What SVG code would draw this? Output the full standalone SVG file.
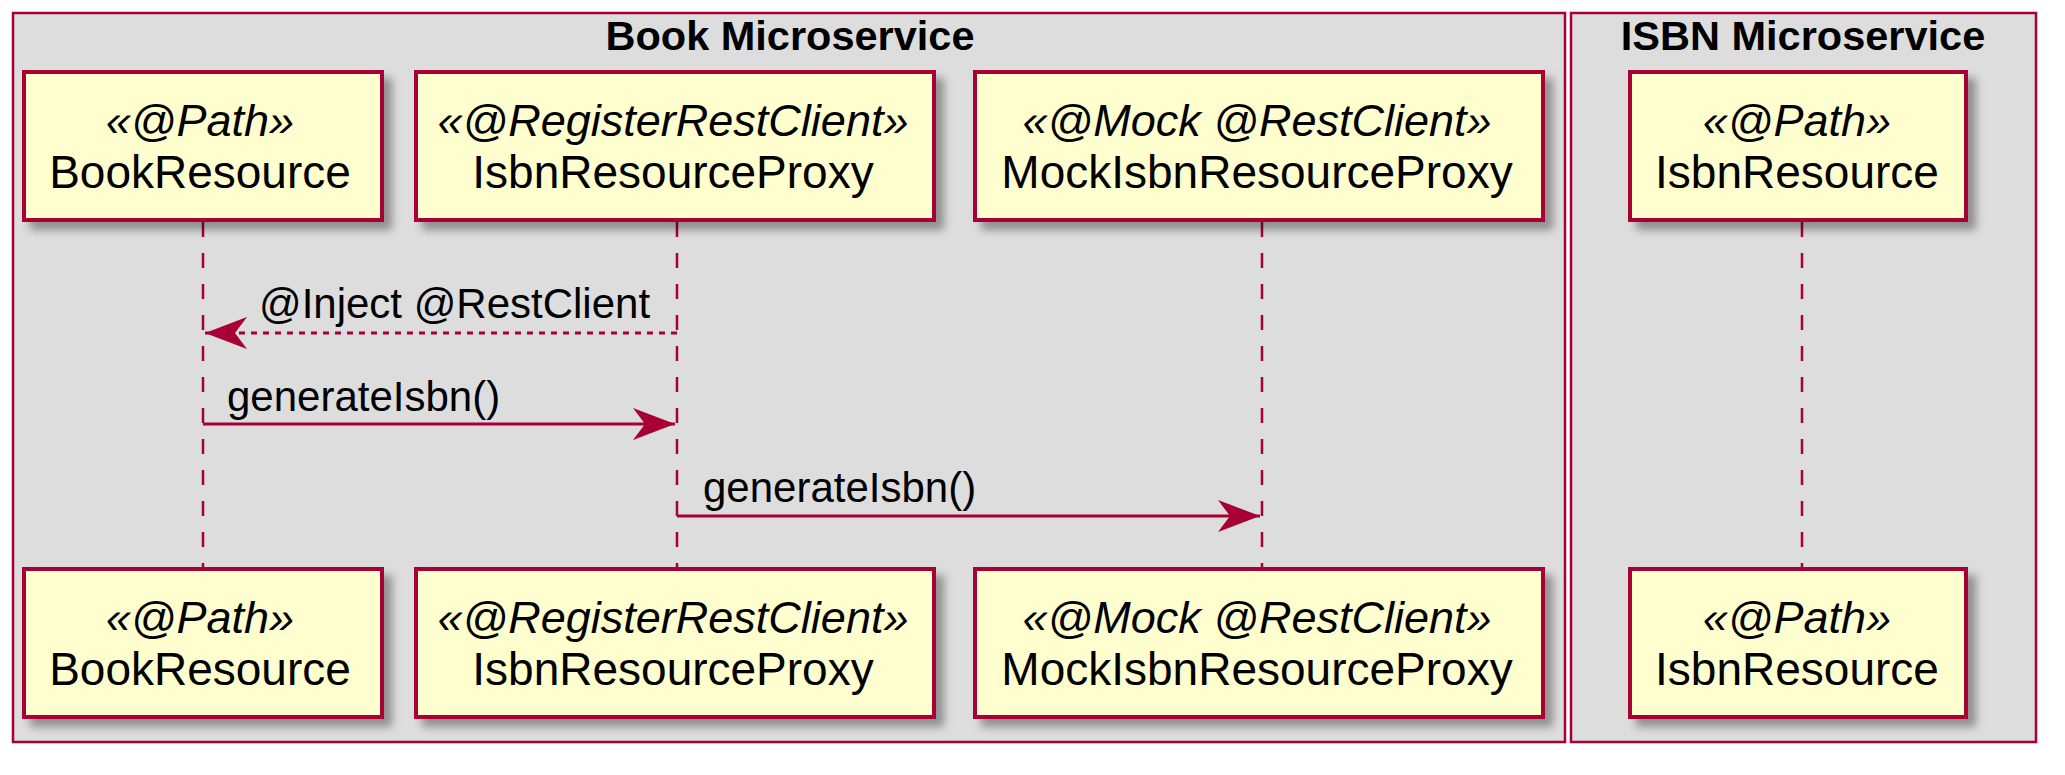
<svg xmlns="http://www.w3.org/2000/svg" width="2065" height="775" viewBox="0 0 2065 775">
<defs>
<filter id="sh" x="-10%" y="-10%" width="130%" height="140%">
<feGaussianBlur in="SourceAlpha" stdDeviation="4"/>
<feOffset dx="8" dy="8" result="b"/>
<feFlood flood-color="#000" flood-opacity="0.35"/>
<feComposite in2="b" operator="in"/>
<feMerge><feMergeNode/><feMergeNode in="SourceGraphic"/></feMerge>
</filter>
<marker id="ah" markerUnits="userSpaceOnUse" markerWidth="50" markerHeight="40" refX="42" refY="16" orient="auto">
<polygon points="42,16 0,0 12,16 0,32" fill="#A80036"/>
</marker>
</defs>
<style>
.frame{fill:#DDDDDD;stroke:#A80036;stroke-width:2.5}
.ftitle{font-family:"Liberation Sans",Arial,sans-serif;font-weight:bold;font-size:41.5px;fill:#000;text-anchor:middle}
.box{fill:#FEFECE;stroke:#A80036;stroke-width:4}
.st{font-family:"Liberation Sans",Arial,sans-serif;font-style:italic;font-size:45px;fill:#000;text-anchor:middle}
.nm{font-family:"Liberation Sans",Arial,sans-serif;font-size:46px;fill:#000;text-anchor:middle}
.life{stroke:#A80036;stroke-width:2.5;stroke-dasharray:15,16;fill:none}
.msg{stroke:#A80036;stroke-width:3;fill:none}
.dot{stroke-dasharray:6,6}
.lbl{font-family:"Liberation Sans",Arial,sans-serif;font-size:42px;fill:#000}
</style>
<rect width="2065" height="775" fill="#FFFFFF"/>
<g id="frame-book">
<rect class="frame" x="13" y="13" width="1552" height="729"/>
<text class="ftitle" x="790" y="50">Book Microservice</text>
</g>
<g id="frame-isbn">
<rect class="frame" x="1571" y="13" width="465" height="729"/>
<text class="ftitle" x="1803" y="50">ISBN Microservice</text>
</g>
<g id="lifelines">
<line class="life" x1="203" y1="222" x2="203" y2="569"/>
<line class="life" x1="677" y1="222" x2="677" y2="569"/>
<line class="life" x1="1262" y1="222" x2="1262" y2="569"/>
<line class="life" x1="1802" y1="222" x2="1802" y2="569"/>
</g>
<g id="BookResource">
<g filter="url(#sh)"><rect class="box" x="24" y="72" width="358" height="148"/></g>
<text class="st" x="200" y="136">«@Path»</text>
<text class="nm" x="200" y="188">BookResource</text>
</g>
<g id="IsbnResourceProxy">
<g filter="url(#sh)"><rect class="box" x="416" y="72" width="518" height="148"/></g>
<text class="st" x="673" y="136">«@RegisterRestClient»</text>
<text class="nm" x="673" y="188">IsbnResourceProxy</text>
</g>
<g id="MockIsbnResourceProxy">
<g filter="url(#sh)"><rect class="box" x="975" y="72" width="568" height="148"/></g>
<text class="st" x="1257" y="136">«@Mock @RestClient»</text>
<text class="nm" x="1257" y="188">MockIsbnResourceProxy</text>
</g>
<g id="IsbnResource">
<g filter="url(#sh)"><rect class="box" x="1630" y="72" width="336" height="148"/></g>
<text class="st" x="1797" y="136">«@Path»</text>
<text class="nm" x="1797" y="188">IsbnResource</text>
</g>
<g id="BookResource-bottom">
<g filter="url(#sh)"><rect class="box" x="24" y="569" width="358" height="148"/></g>
<text class="st" x="200" y="633">«@Path»</text>
<text class="nm" x="200" y="685">BookResource</text>
</g>
<g id="IsbnResourceProxy-bottom">
<g filter="url(#sh)"><rect class="box" x="416" y="569" width="518" height="148"/></g>
<text class="st" x="673" y="633">«@RegisterRestClient»</text>
<text class="nm" x="673" y="685">IsbnResourceProxy</text>
</g>
<g id="MockIsbnResourceProxy-bottom">
<g filter="url(#sh)"><rect class="box" x="975" y="569" width="568" height="148"/></g>
<text class="st" x="1257" y="633">«@Mock @RestClient»</text>
<text class="nm" x="1257" y="685">MockIsbnResourceProxy</text>
</g>
<g id="IsbnResource-bottom">
<g filter="url(#sh)"><rect class="box" x="1630" y="569" width="336" height="148"/></g>
<text class="st" x="1797" y="633">«@Path»</text>
<text class="nm" x="1797" y="685">IsbnResource</text>
</g>
<g id="connectors">
<line class="msg dot" x1="677" y1="333" x2="205" y2="333" marker-end="url(#ah)"/>
<text class="lbl" x="259" y="318">@Inject @RestClient</text>
<line class="msg" x1="203" y1="424" x2="675" y2="424" marker-end="url(#ah)"/>
<text class="lbl" x="227" y="411">generateIsbn()</text>
<line class="msg" x1="677" y1="516" x2="1260" y2="516" marker-end="url(#ah)"/>
<text class="lbl" x="703" y="502">generateIsbn()</text>
</g>
</svg>
